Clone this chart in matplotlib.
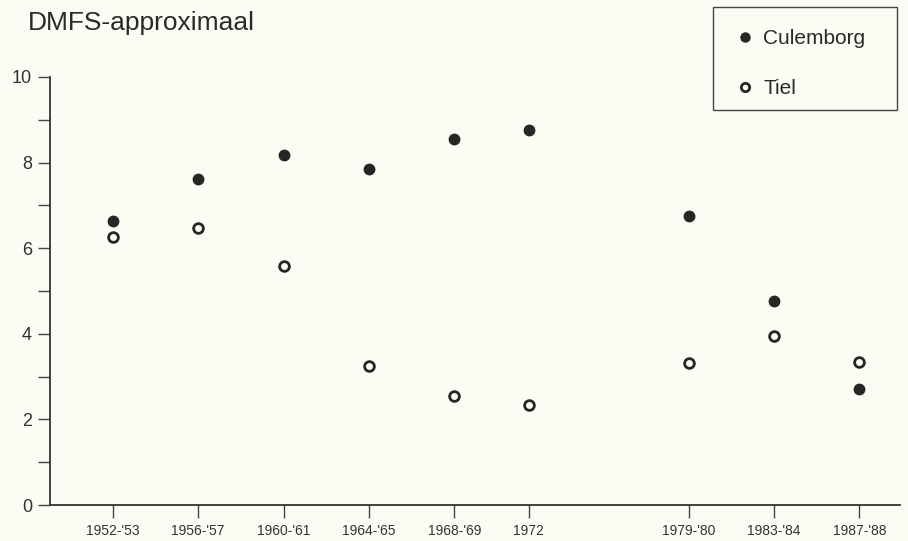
import matplotlib
matplotlib.use("Agg")
import matplotlib.pyplot as plt
from matplotlib.lines import Line2D
from matplotlib.patches import Rectangle

plt.rcParams['font.family'] = ['Liberation Sans', 'DejaVu Sans']

years = [1952.5, 1956.5, 1960.5, 1964.5, 1968.5, 1972, 1979.5, 1983.5, 1987.5]
tick_labels = ["1952-'53", "1956-'57", "1960-'61", "1964-'65", "1968-'69", "1972",
               "1979-'80", "1983-'84", "1987-'88"]
culemborg = [6.64, 7.62, 8.18, 7.85, 8.55, 8.76, 6.75, 4.77, 2.71]
tiel = [6.26, 6.47, 5.58, 3.25, 2.55, 2.34, 3.32, 3.95, 3.34]

bg = '#fcfcf5'
ink = '#262626'

fig = plt.figure(figsize=(9.08, 5.41), dpi=100, facecolor=bg)
W, H = 908, 541
ax = fig.add_axes([50 / W, (H - 505) / H, (900 - 50) / W, (505 - 77) / H])
ax.set_facecolor(bg)

ax.plot(years, culemborg, linestyle='none', marker='o', markersize=7.5,
        markerfacecolor=ink, markeredgecolor=ink, label='Culemborg', clip_on=False)
ax.plot(years, tiel, linestyle='none', marker='o', markersize=7, markeredgewidth=2,
        markerfacecolor=bg, markeredgecolor=ink, label='Tiel', clip_on=False)

ax.set_xlim(1949.55, 1989.4)
ax.set_ylim(0, 10)
ax.set_xticks(years)
ax.set_xticklabels(tick_labels, fontsize=10, color='#333333')
ax.set_yticks(range(0, 11))
ax.set_yticklabels([str(v) if v % 2 == 0 else '' for v in range(0, 11)],
                   fontsize=13, color='#333333')
ax.tick_params(axis='both', direction='out', length=9, width=1, color='#444444')
ax.tick_params(axis='x', pad=5)
ax.tick_params(axis='y', pad=4)

for s in ['top', 'right']:
    ax.spines[s].set_visible(False)
for s in ['left', 'bottom']:
    ax.spines[s].set_color('#333333')
    ax.spines[s].set_linewidth(1.3)

fig.text(28 / W, 1 - 23 / H, 'DMFS-approximaal', fontsize=19, color='#2a2a2a',
         ha='left', va='center')

# legend frame
fig.patches.append(Rectangle((713 / W, 1 - 110 / H), (897 - 713) / W, (110 - 7) / H,
                             transform=fig.transFigure, facecolor=bg,
                             edgecolor='#444444', linewidth=1.0, zorder=0))

handles = [
    Line2D([], [], linestyle='none', marker='o', markersize=6.5,
           markerfacecolor=ink, markeredgecolor=ink),
    Line2D([], [], linestyle='none', marker='o', markersize=6, markeredgewidth=2,
           markerfacecolor=bg, markeredgecolor=ink),
]
leg = fig.legend(handles, ['Culemborg', 'Tiel'], loc='upper left',
                 bbox_to_anchor=(735 / W, 1 - 29 / H), fontsize=15,
                 frameon=False, labelspacing=1.5,
                 borderpad=0, handlelength=1.0, handletextpad=0.35,
                 borderaxespad=0)
for t in leg.get_texts():
    t.set_color('#2a2a2a')

fig.savefig('out.png', dpi=100, facecolor=bg)
